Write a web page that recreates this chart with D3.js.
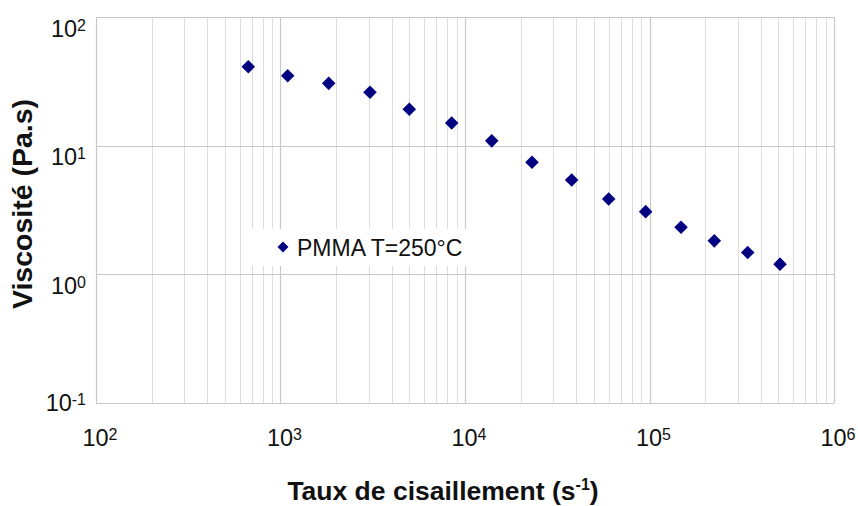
<!DOCTYPE html>
<html><head><meta charset="utf-8">
<script src="https://cdn.jsdelivr.net/npm/d3@7/dist/d3.min.js"></script>
<style>
body{margin:0;background:#fff;}
svg{display:block;font-family:"Liberation Sans",Arial,sans-serif;}
</style></head>
<body>
<svg id="chart" width="858" height="506"></svg>
<script>
// Data
const shearRate = [669, 1094, 1825, 3055, 4990, 8470, 13960, 23070, 37860, 60100, 95300, 148200, 224500, 340600, 509800];
const viscosity = [41.1, 35.0, 30.5, 26.0, 19.2, 15.0, 10.9, 7.43, 5.41, 3.85, 3.07, 2.32, 1.82, 1.48, 1.20];
const seriesName = "PMMA T=250°C";
const xTickExps = [2, 3, 4, 5, 6];
const yTickExps = [-1, 0, 1, 2];
const xTitle = "Taux de cisaillement (s";
const xTitleSup = "-1";
const yTitle = "Viscosité (Pa.s)";

const svg = d3.select("#chart");
const L = 96, R = 834, T = 17, B = 403;
const x = d3.scaleLog().domain([1e2, 1e6]).range([L, R]);
const y = d3.scaleLog().domain([1e-1, 1e2]).range([B, T]);

// vertical gridlines (major + minor)
const xMinor = [];
for (let e = 2; e < 6; e++) for (let m = 2; m <= 9; m++) xMinor.push(m * Math.pow(10, e));
svg.append("g").selectAll("line").data(xMinor).join("line")
  .attr("x1", d => Math.round(x(d)) + 0.5).attr("x2", d => Math.round(x(d)) + 0.5)
  .attr("y1", T).attr("y2", B).attr("stroke", "#dedede").attr("stroke-width", 1);
const xMajor = xTickExps.map(e => Math.pow(10, e));
svg.append("g").selectAll("line").data(xMajor).join("line")
  .attr("x1", d => Math.round(x(d)) + 0.5).attr("x2", d => Math.round(x(d)) + 0.5)
  .attr("y1", T).attr("y2", B).attr("stroke", "#c8c8c8").attr("stroke-width", 1.2);
const yMajor = yTickExps.map(e => Math.pow(10, e));
svg.append("g").selectAll("line").data(yMajor).join("line")
  .attr("x1", L).attr("x2", R)
  .attr("y1", d => Math.round(y(d)) + 0.5).attr("y2", d => Math.round(y(d)) + 0.5)
  .attr("stroke", "#c8c8c8").attr("stroke-width", 1.2);

// legend box (covers gridlines)
const lg = svg.append("g");
lg.append("rect").attr("x", 250).attr("y", 229).attr("width", 225).attr("height", 37).attr("fill", "#fff");
lg.append("path").attr("d", d3.symbol(d3.symbolSquare, 60)())
  .attr("transform", "translate(283,247) rotate(45)").attr("fill", "#000080");
lg.append("text").attr("x", 297).attr("y", 255.5).attr("font-size", 23).attr("fill", "#111").text(seriesName);

// points
svg.append("g").selectAll("path").data(shearRate.map((d, i) => [d, viscosity[i]])).join("path")
  .attr("d", d3.symbol(d3.symbolSquare, 92)())
  .attr("transform", d => `translate(${x(d[0])},${y(d[1])}) rotate(45)`)
  .attr("fill", "#000080");

// y tick labels
const yl = svg.append("g").selectAll("text").data(yTickExps).join("text")
  .attr("x", 86).attr("y", e => Math.min(y(Math.pow(10, e)) + 19.5, B + 8))
  .attr("text-anchor", "end").attr("font-size", 23.5).attr("fill", "#111");
yl.append("tspan").text("10");
yl.append("tspan").attr("font-size", 16).attr("dy", -6).text(e => e);

// x tick labels
const xl = svg.append("g").selectAll("text").data(xTickExps).join("text")
  .attr("x", e => x(Math.pow(10, e)) + 4).attr("y", 446)
  .attr("text-anchor", "middle").attr("font-size", 23.5).attr("fill", "#111");
xl.append("tspan").text("10");
xl.append("tspan").attr("font-size", 16).attr("dy", -6).text(e => e);

// axis titles
const xt = svg.append("text").attr("x", 443).attr("y", 500).attr("text-anchor", "middle")
  .attr("font-size", 26.5).attr("font-weight", "bold").attr("fill", "#111");
xt.append("tspan").text(xTitle);
xt.append("tspan").attr("font-size", 16).attr("dy", -10).text(xTitleSup);
xt.append("tspan").attr("dy", 10).text(")");

svg.append("text").attr("transform", "translate(32,204) rotate(-90)").attr("text-anchor", "middle")
  .attr("font-size", 28.5).attr("font-weight", "bold").attr("fill", "#111").text(yTitle);
</script>
</body></html>
